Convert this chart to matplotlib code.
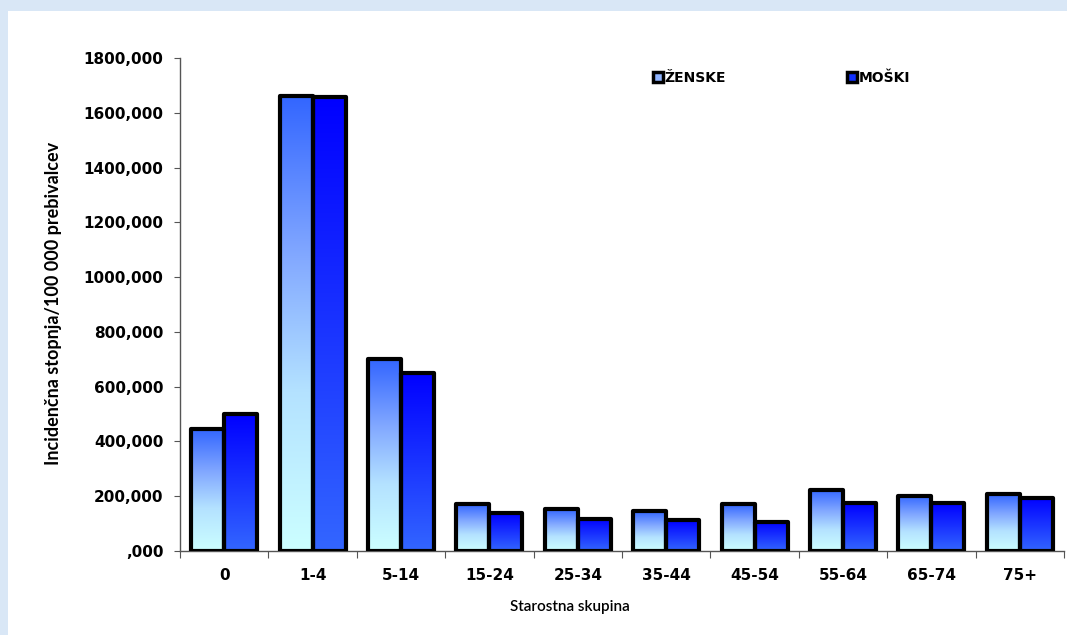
import numpy as np
import matplotlib
matplotlib.use("Agg")
import matplotlib.pyplot as plt
import matplotlib.patches as patches
from matplotlib.colors import LinearSegmentedColormap

# incidence per 100 000 inhabitants by age group
groups = ["0", "1-4", "5-14", "15-24", "25-34", "35-44", "45-54", "55-64", "65-74", "75+"]
zenske = [445, 1661, 701, 170, 152, 146, 170, 223, 202, 208]
moski = [500, 1657, 650, 138, 117, 113, 107, 174, 174, 195]
y_ticks = [0, 200, 400, 600, 800, 1000, 1200, 1400, 1600, 1800]
y_labels = [",000", "200,000", "400,000", "600,000", "800,000", "1000,000",
            "1200,000", "1400,000", "1600,000", "1800,000"]

label_font = ["Lato", "DejaVu Sans"]

cmap_z = LinearSegmentedColormap.from_list(
    "zen", [(0, "#CCFFFF"), (0.35, "#B4E2FF"), (0.65, "#82A8FF"), (1, "#3366FF")])
cmap_m = LinearSegmentedColormap.from_list("mos", [(0, "#3366FF"), (1, "#0000FF")])

fig = plt.figure(figsize=(10.67, 6.35), dpi=100)
fig.patch.set_facecolor("#D9E7F6")
fig.patches.append(patches.Rectangle((8 / 1067, 0), 1, 624 / 635, transform=fig.transFigure,
                                     facecolor="white", edgecolor="none", zorder=-5))

ax = fig.add_axes([180 / 1067, (635 - 551) / 635, 884 / 1067, 493 / 635])
ax.set_facecolor("none")
ax.set_zorder(2)

x = np.arange(len(groups))
w = 0.373
grad = np.linspace(0, 1, 256).reshape(-1, 1)

def gradient_bars(xs, vals, cmap, label):
    bars = ax.bar(xs, vals, width=w, align="edge", facecolor="none", edgecolor="black",
                  linewidth=3.0, joinstyle="round", zorder=3, label=label)
    for b in bars:
        x0, h = b.get_x(), b.get_height()
        ax.imshow(grad, extent=[x0, x0 + b.get_width(), 0, h], origin="lower",
                  cmap=cmap, aspect="auto", zorder=2, interpolation="bilinear")
    return bars

gradient_bars(x - w, zenske, cmap_z, "ŽENSKE")
gradient_bars(x, moski, cmap_m, "MOŠKI")

ax.set_xlim(-0.5, len(groups) - 0.5)
ax.set_ylim(0, 1800)

for s in ["top", "right"]:
    ax.spines[s].set_visible(False)
for s in ["left", "bottom"]:
    ax.spines[s].set_color("#555555")
    ax.spines[s].set_linewidth(1.0)

ax.set_yticks(y_ticks)
ax.set_yticklabels(y_labels, fontsize=11, fontweight="bold")
ax.tick_params(axis="y", direction="out", length=4, color="#555555", pad=8)

ax.set_xticks(np.arange(len(groups) + 1) - 0.5)
ax.set_xticklabels([])
ax.tick_params(axis="x", which="major", direction="out", length=5, color="#555555")
ax.set_xticks(x, minor=True)
ax.set_xticklabels(groups, minor=True, fontsize=11, fontweight="bold")
ax.tick_params(axis="x", which="minor", length=0, pad=12)

fig.text(54 / 1067, 1 - 303 / 635, "Incidenčna stopnja/100 000 prebivalcev", rotation=90,
         ha="center", va="center", fontsize=13, fontweight="bold", family=label_font)
fig.text(570 / 1067, 1 - 607 / 635, "Starostna skupina", ha="center", va="center",
         fontsize=11, fontweight="semibold", family=label_font)

h_z = patches.Rectangle((0, 0), 1, 1, facecolor="#8FB4FF", edgecolor="black", linewidth=2.5)
h_m = patches.Rectangle((0, 0), 1, 1, facecolor="#1030FF", edgecolor="black", linewidth=2.5)
ax.legend([h_z, h_m], ["ŽENSKE", "MOŠKI"], ncol=2, frameon=False,
          loc="center left", bbox_to_anchor=(653 / 1067, 1 - 78 / 635),
          bbox_transform=fig.transFigure, prop={"weight": "bold", "size": 10},
          handlelength=0.7, handleheight=0.7, handletextpad=0.15, columnspacing=8.7,
          borderaxespad=0, borderpad=0)

fig.savefig("out.png", dpi=100, facecolor=fig.get_facecolor())
